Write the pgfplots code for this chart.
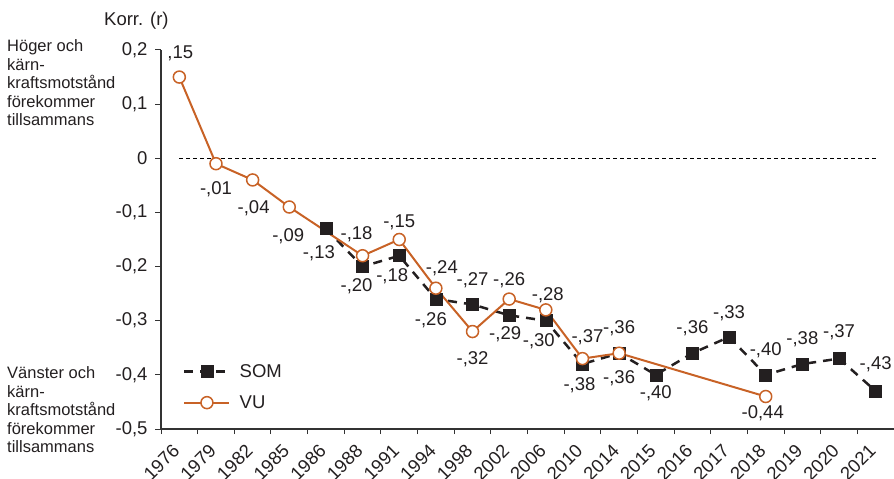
\documentclass[border=0pt]{standalone}
\usepackage{fontspec}
\setmainfont{Liberation Sans}
\usepackage{pgfplots}
\pgfplotsset{compat=1.18}
\usepackage{pgfplotstable}
\definecolor{vu}{RGB}{200,98,38}
\definecolor{som}{RGB}{35,31,32}
\definecolor{txt}{RGB}{35,31,32}
\newcommand\fsz{\fontsize{18.5}{21}\selectfont}
\newcommand\fsl{\fontsize{16.5}{18.5}\selectfont}

\pgfplotstableread{
x y lab dx dy
4 -0.13 -,13 -7 -25
5 -0.20 -,20 -6 -20
6 -0.18 -,18 -7 -20
7 -0.26 -,26 -5 -21
8 -0.27 -,27 0 24
9 -0.29 -,29 -4 -19
10 -0.30 -,30 -7 -21
11 -0.38 -,38 -3 -21
12 -0.36 -,36 0 -25
13 -0.40 -,40 0 -18
14 -0.36 -,36 0 25
15 -0.33 -,33 0 24
16 -0.40 -,40 0 25
17 -0.38 -,38 0 25
18 -0.37 -,37 0 26
19 -0.43 -,43 0 27
}\somtable

\pgfplotstableread{
x y lab dx dy
0 0.15 ,15 1 24
1 -0.01 -,01 0 -26
2 -0.04 -,04 1 -28
3 -0.09 -,09 -1 -29
5 -0.18 -,18 -6 22
6 -0.15 -,15 0 17
7 -0.24 -,24 6 20
8 -0.32 -,32 0 -28
9 -0.26 -,26 0 19
10 -0.28 -,28 2 15
11 -0.37 -,37 5 21
12 -0.36 -,36 0 25
16 -0.44 -0,44 -3 -17
}\vutable

\begin{document}
\begin{tikzpicture}[x=1pt,y=1pt]
\useasboundingbox (0pt,0pt) rectangle (894pt,479pt);
\begin{axis}[
  at={(161pt,50pt)}, anchor=south west,
  scale only axis, width=733pt, height=379pt,
  xmin=-0.5, xmax=19.5, ymin=-0.5, ymax=0.2,
  axis x line*=bottom, axis y line*=left,
  axis line style={-, draw=black!80, line width=1.2pt},
  xtick={0,...,19},
  xticklabels={1976,1979,1982,1985,1986,1988,1991,1994,1998,2002,2006,2010,2014,2015,2016,2017,2018,2019,2020,2021},
  major x tick style={draw=none},
  minor xtick={-0.5,0.5,...,19.5},
  ytick={-0.5,-0.4,-0.3,-0.2,-0.1,0,0.1,0.2},
  yticklabels={{-0,5},{-0,4},{-0,3},{-0,2},{-0,1},0,{0,1},{0,2}},
  tick align=outside, major tick length=6pt, minor tick length=5pt,
  every tick/.style={draw=black!80, line width=1pt},
  tick label style={font=\fsz, text=txt},
  xticklabel style={rotate=45, anchor=north east, xshift=-7.8pt, yshift=3.4pt},
  yticklabel style={xshift=-4pt},
  clip=false,
  legend style={at={(0.03,0.177)}, anchor=north west, draw=none, fill=none,
    font=\fsz, text=txt, row sep=13pt, inner sep=0pt},
  legend cell align=left,
  legend image code/.code={\draw[mark repeat=2, mark phase=2, #1] plot coordinates {(0pt,0pt) (22.5pt,0pt) (45pt,0pt)}; \path (52pt,0pt);},
]
\addplot[black, line width=1pt, dash pattern=on 4pt off 3pt, forget plot] coordinates {(0,0) (19,0)};
\addplot[som, line width=2.5pt, dash pattern=on 9pt off 7pt,
  mark=square*, mark size=6pt, mark options={solid, fill=som, draw=som, line width=0.5pt},
  nodes near coords={\pgfplotspointmeta}, point meta=explicit symbolic,
  visualization depends on={\thisrow{dx} \as \ldx},
  visualization depends on={\thisrow{dy} \as \ldy},
  every node near coord/.append style={font=\fsz, text=txt, anchor=center, xshift=\ldx pt, yshift=\ldy pt}]
  table[x=x, y=y, meta=lab] {\somtable};
\addlegendentry{SOM}
\addplot[vu, line width=2pt,
  mark=*, mark size=6pt, mark options={solid, fill=white, draw=vu, line width=1.5pt},
  nodes near coords={\pgfplotspointmeta}, point meta=explicit symbolic,
  visualization depends on={\thisrow{dx} \as \ldx},
  visualization depends on={\thisrow{dy} \as \ldy},
  every node near coord/.append style={font=\fsz, text=txt, anchor=center, xshift=\ldx pt, yshift=\ldy pt}]
  table[x=x, y=y, meta=lab] {\vutable};
\addlegendentry{VU}
\end{axis}
\node[anchor=base west, font=\fsz, text=txt, inner sep=0pt] at (104pt,453pt) {Korr. (r)};
\foreach \t [count=\i from 0] in {Höger och,kärn-,kraftsmotstånd,förekommer,tillsammans}
  \node[anchor=base west, font=\fsl, text=txt, inner sep=0pt] at (7pt,{(479-52-18.5*\i)*1pt}) {\t};
\foreach \t [count=\i from 0] in {Vänster och,kärn-,kraftsmotstånd,förekommer,tillsammans}
  \node[anchor=base west, font=\fsl, text=txt, inner sep=0pt] at (7pt,{(479-379-18.5*\i)*1pt}) {\t};
\end{tikzpicture}
\end{document}
